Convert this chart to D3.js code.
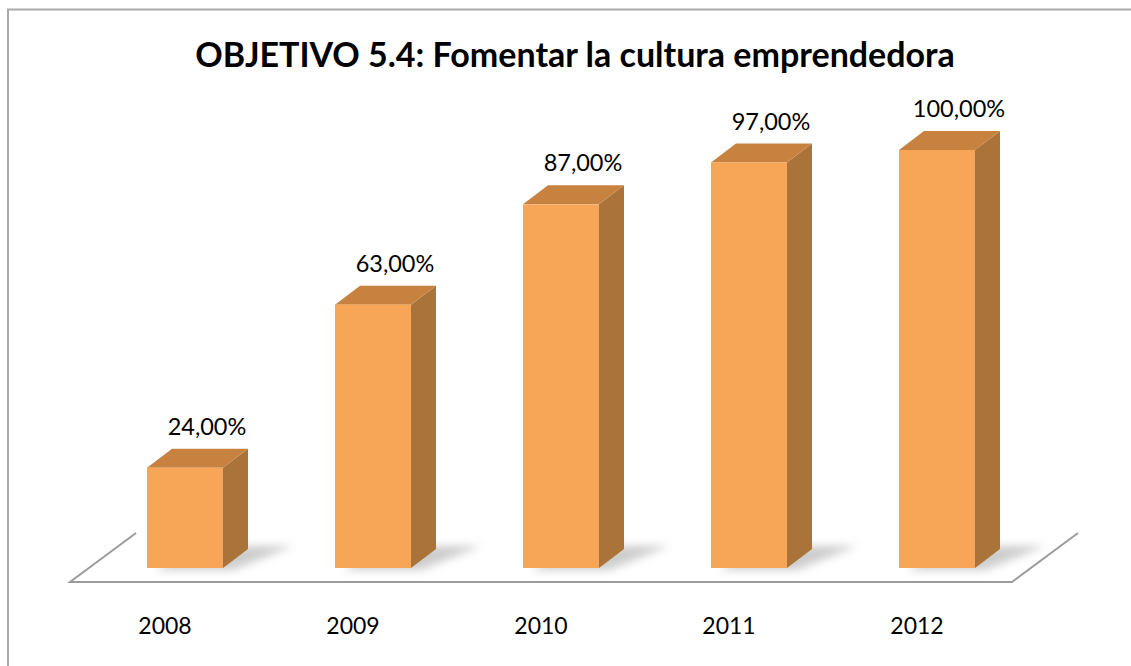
<!DOCTYPE html>
<html>
<head>
<meta charset="utf-8">
<script src="https://cdn.jsdelivr.net/npm/d3@7"></script>
<style>
  html, body { margin: 0; padding: 0; background: #fff; }
  svg { display: block; }
</style>
</head>
<body>
<svg id="chart" width="1131" height="666"></svg>
<script>
// Chart data
const title = "OBJETIVO 5.4: Fomentar la cultura emprendedora";
const years = ["2008", "2009", "2010", "2011", "2012"];
const values = [24, 63, 87, 97, 100];
const valueLabels = ["24,00%", "63,00%", "87,00%", "97,00%", "100,00%"];

const svg = d3.select("#chart");
const W = 1131, H = 666;

// Scales: bar front-face centres and value axis
const x = d3.scalePoint().domain(years).range([185, 937]);
const y = d3.scaleLinear().domain([0, 100]).range([568, 150]);
const barW = 76;
const depth = { dx: 25, dy: -19 };
const floorDepth = { dx: 66, dy: -49 };
const floorY = 582;

const colors = { front: "#F6A656", side: "#AA7339", top: "#C88240" };

// Chart frame (top and left edges)
svg.append("line").attr("x1", 7).attr("x2", W).attr("y1", 9.5).attr("y2", 9.5)
  .attr("stroke", "#a9a9a9").attr("stroke-width", 2);
svg.append("line").attr("x1", 8).attr("x2", 8).attr("y1", 9).attr("y2", H)
  .attr("stroke", "#a9a9a9").attr("stroke-width", 2);

// Title
svg.append("text")
  .attr("x", 575).attr("y", 67)
  .attr("text-anchor", "middle")
  .attr("font-family", "Lato, 'Open Sans', sans-serif")
  .attr("font-weight", "bold")
  .attr("font-size", 34)
  .attr("fill", "#000")
  .text(title);

// Floor plane outline
const floorL = 70, floorR = 1012;
const floor = svg.append("g");
floor.append("path")
  .attr("d", `M${floorL + floorDepth.dx},${floorY + floorDepth.dy} L${floorL},${floorY} L${floorR},${floorY} L${floorR + floorDepth.dx},${floorY + floorDepth.dy}`)
  .attr("fill", "none").attr("stroke", "#9c9c9c").attr("stroke-width", 2);

// Soft shadows cast by the bars on the floor
const defs = svg.append("defs");
defs.append("filter").attr("id", "soft").attr("x", "-50%").attr("y", "-50%").attr("width", "200%").attr("height", "200%")
  .append("feGaussianBlur").attr("stdDeviation", 4);

const base = y(0);
const shadowG = svg.append("g").attr("filter", "url(#soft)");
years.forEach((yr) => {
  const x0 = x(yr) - barW / 2;
  shadowG.append("path")
    .attr("d", `M${x0 + 10},${base + 2} L${x0 + barW + 10},${base + 2} L${x0 + barW + 70},${base - 22} L${x0 + 40},${base - 22} Z`)
    .attr("fill", "#b8b8b8").attr("opacity", 0.7);
});

// 3D bars
const bars = svg.append("g");
years.forEach((yr, i) => {
  const x0 = x(yr) - barW / 2, x1 = x0 + barW;
  const yt = y(values[i]);
  const g = bars.append("g");
  // side face
  g.append("path")
    .attr("d", `M${x1},${base} L${x1 + depth.dx},${base + depth.dy} L${x1 + depth.dx},${yt + depth.dy} L${x1},${yt} Z`)
    .attr("fill", colors.side);
  // top face
  g.append("path")
    .attr("d", `M${x0},${yt} L${x1},${yt} L${x1 + depth.dx},${yt + depth.dy} L${x0 + depth.dx},${yt + depth.dy} Z`)
    .attr("fill", colors.top);
  // front face
  g.append("rect")
    .attr("x", x0).attr("y", yt).attr("width", barW).attr("height", base - yt)
    .attr("fill", colors.front);
});

// Value labels above bars
svg.append("g").selectAll("text").data(years).join("text")
  .attr("x", d => x(d) + 22)
  .attr("y", (d, i) => y(values[i]) + depth.dy - 14)
  .attr("text-anchor", "middle")
  .attr("font-family", "Lato, 'Open Sans', sans-serif")
  .attr("font-size", 23.5)
  .attr("fill", "#000")
  .text((d, i) => valueLabels[i]);

// Category axis labels
svg.append("g").selectAll("text").data(years).join("text")
  .attr("x", d => x(d) - 20)
  .attr("y", 634)
  .attr("text-anchor", "middle")
  .attr("font-family", "Lato, 'Open Sans', sans-serif")
  .attr("font-size", 23)
  .attr("fill", "#000")
  .text(d => d);
</script>
</body>
</html>
